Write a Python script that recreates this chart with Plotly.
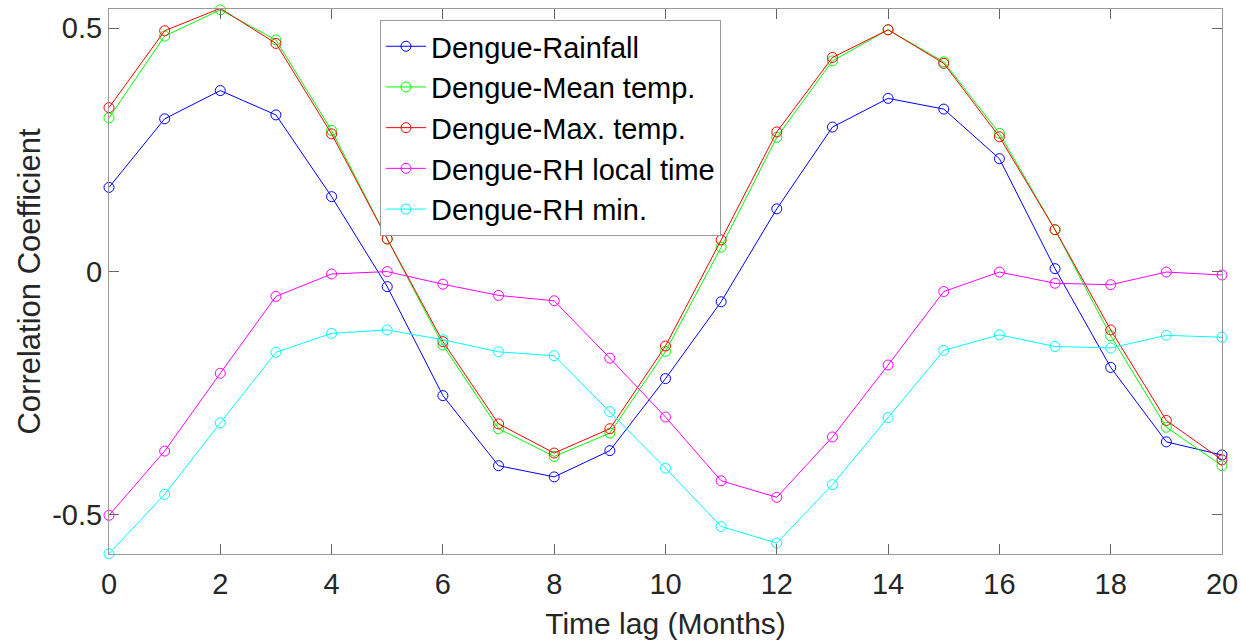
import plotly.graph_objects as go

months = list(range(21))

rainfall = [0.173, 0.314, 0.372, 0.322, 0.154, -0.031, -0.255, -0.399, -0.422, -0.368,
            -0.220, -0.062, 0.129, 0.297, 0.356, 0.334, 0.232, 0.006, -0.197, -0.350, -0.377]
mean_temp = [0.316, 0.484, 0.538, 0.476, 0.290, 0.067, -0.151, -0.323, -0.380, -0.332,
             -0.164, 0.050, 0.276, 0.433, 0.497, 0.431, 0.284, 0.086, -0.132, -0.320, -0.399]
max_temp = [0.337, 0.495, 0.541, 0.469, 0.283, 0.067, -0.144, -0.313, -0.373, -0.323,
            -0.153, 0.065, 0.287, 0.440, 0.497, 0.428, 0.277, 0.086, -0.120, -0.306, -0.387]
rh_local = [-0.501, -0.369, -0.209, -0.051, -0.005, 0.000, -0.026, -0.049, -0.060, -0.178,
            -0.299, -0.430, -0.464, -0.340, -0.192, -0.041, -0.001, -0.024, -0.027, -0.001, -0.007]
rh_min = [-0.580, -0.458, -0.311, -0.166, -0.127, -0.120, -0.140, -0.165, -0.173, -0.288,
          -0.404, -0.524, -0.558, -0.438, -0.300, -0.162, -0.130, -0.154, -0.157, -0.131, -0.135]

series_names = ["Dengue-Rainfall", "Dengue-Mean temp.", "Dengue-Max. temp.",
                "Dengue-RH local time", "Dengue-RH min."]
series_values = [rainfall, mean_temp, max_temp, rh_local, rh_min]
series_colors = ["#0000ff", "#00ff00", "#ff0000", "#ff00ff", "#00ffff"]

y_tickvals = [-0.5, 0, 0.5]
y_ticktext = ["-0.5", "0", "0.5"]
x_tickvals = list(range(0, 21, 2))

FONT = "Liberation Sans, Arial, sans-serif"

fig = go.Figure()
for name, vals, col in zip(series_names, series_values, series_colors):
    fig.add_trace(go.Scatter(
        x=months, y=vals, name=name, mode="lines+markers",
        line=dict(color=col, width=1),
        marker=dict(symbol="circle-open", size=10, color=col, line=dict(width=1, color=col)),
        cliponaxis=False,
    ))

axis_common = dict(
    showgrid=False, zeroline=False, showline=True, linecolor="#999999", linewidth=1,
    mirror="ticks", ticks="inside", ticklen=10, tickcolor="#666666", tickwidth=1,
    tickfont=dict(family=FONT, size=29, color="#262626"),
    automargin=False,
)

fig.update_layout(
    width=1242, height=640,
    margin=dict(l=109, r=20, t=9, b=86, autoexpand=False),
    paper_bgcolor="white", plot_bgcolor="white",
    font=dict(family=FONT, color="#262626"),
    xaxis=dict(range=[0, 20], tickvals=x_tickvals, ticklabelstandoff=4,
               title=dict(text="Time lag (Months)", font=dict(family=FONT, size=30, color="#262626"), standoff=16),
               **axis_common),
    yaxis=dict(range=[-0.5805, 0.5397], tickvals=y_tickvals, ticktext=y_ticktext,
               title=dict(text="Correlation Coefficient", font=dict(family=FONT, size=31, color="#262626"), standoff=2),
               **axis_common),
    legend=dict(x=0.2435, y=0.98, xanchor="left", yanchor="top",
                bgcolor="white", bordercolor="#999999", borderwidth=1,
                font=dict(family=FONT, size=29, color="black"),
                itemwidth=40, tracegroupgap=0),
    showlegend=True,
)

fig.write_html("out.html")
